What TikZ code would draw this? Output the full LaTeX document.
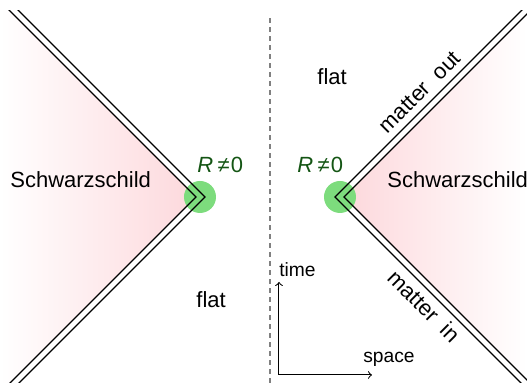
\documentclass[tikz,border=0pt]{standalone}
\usepackage{fontspec}
\setmainfont{Liberation Sans}
\definecolor{pinkc}{RGB}{253,216,220}
\definecolor{blobgreen}{RGB}{125,220,125}
\definecolor{darkgreen}{RGB}{20,85,20}
\tikzset{
  wall/.style={line width=0.6pt},
  blob/.style={fill=blobgreen},
  txt/.style={font=\fontsize{11}{13}\selectfont, inner sep=0pt},
  smalltxt/.style={font=\fontsize{9.6}{11}\selectfont, inner sep=0pt}
}
\begin{document}
\begin{tikzpicture}[x=0.5pt,y=0.5pt]
\useasboundingbox (0,0) rectangle (527,383);

\begin{scope}
\clip (0,0) rectangle (527,372);
% shaded Schwarzschild wedges
\begin{scope}
\clip (-20,402) -- (196,186) -- (-20,-30) -- cycle;
\shade[left color=white, right color=pinkc] (0,0) rectangle (196,383);
\end{scope}
\begin{scope}
\clip (344,186) -- (560,402) -- (560,-30) -- cycle;
\shade[left color=pinkc, right color=white] (344,0) rectangle (527,383);
\end{scope}

\fill[blob] (200,186) circle (16);
\fill[blob] (340,186) circle (16);

% left shell
\draw[wall] (6,376) -- (196,186) -- (6,-4);
\draw[wall] (15,376) -- (205,186) -- (15,-4);
% right shell
\draw[wall] (525,376) -- (335,186) -- (525,-4);
\draw[wall] (534,376) -- (344,186) -- (534,-4);
\end{scope}

\draw[gray, dash pattern=on 2.5pt off 2pt, line width=0.65pt] (270,0) -- (270,368);

\node[txt, anchor=base west] (schwL) at (10,195) {Schwarzschild};
\node[txt, anchor=base west] (schwR) at (387,195) {Schwarzschild};
\node[txt, anchor=base west] (flatL) at (196,75) {flat};
\node[txt, anchor=base west] (flatR) at (317,298) {flat};
\node[txt, anchor=base west, text=darkgreen] (curvL) at (197,210) {\textit{R}\kern2.2pt≠\kern0.6pt0};
\node[txt, anchor=base west, text=darkgreen] (curvR) at (297,210) {\textit{R}\kern2.2pt≠\kern0.6pt0};

\node[txt, rotate=45] (out) at (420,291) {matter\ \ out};
\node[txt, rotate=-45] (in) at (424,77) {matter\ \ in};

% axes
\coordinate (o) at (279,8);
\coordinate (t) at (279,101);
\coordinate (s) at (372,8);
\draw[->, line width=0.5pt] (o) -- (t);
\draw[->, line width=0.5pt] (o) -- (s);
\node[smalltxt, anchor=base west] (time) at (279,106) {time};
\node[smalltxt, anchor=base west] (space) at (363,20) {space};
\end{tikzpicture}
\end{document}
